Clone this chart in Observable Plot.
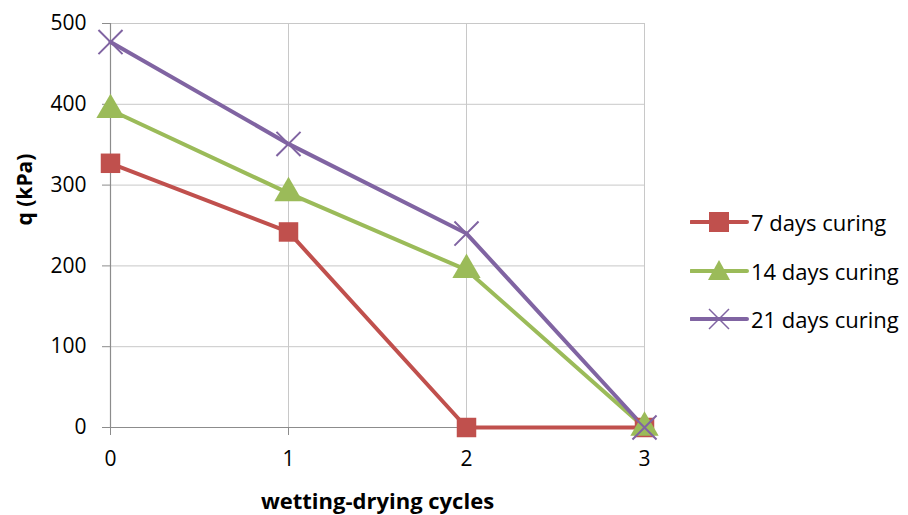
<!DOCTYPE html>
<html>
<head>
<meta charset="utf-8">
<script src="https://cdn.jsdelivr.net/npm/d3@7"></script>
<script src="https://cdn.jsdelivr.net/npm/@observablehq/plot@0.6"></script>
<style>
  html, body { margin: 0; padding: 0; background: #fff; }
  #wrap { position: relative; width: 908px; height: 515px; font-family: "Open Sans", sans-serif; }
  #legend { position: absolute; left: 690px; top: 198px; }
  .item { display: flex; align-items: center; height: 48.5px; font-size: 22px; color: #000; }
  .item svg { margin-right: 1px; }
</style>
</head>
<body>
<div id="wrap">
  <div id="chart"></div>
  <div id="legend"></div>
</div>
<script>
const cycles = [0, 1, 2, 3];
const seriesNames = ["7 days curing", "14 days curing", "21 days curing"];
const days7 = [327, 242, 0, 0];
const days14 = [393, 290, 195, 0];
const days21 = [477, 351, 240, 0];
const xTicks = [0, 1, 2, 3];
const yTicks = [0, 100, 200, 300, 400, 500];
const colors = ["#C0504D", "#9BBB59", "#8064A2"];
const symbols = ["square", "triangle", "times"];

const valuesBySeries = [days7, days14, days21];
const data = [];
seriesNames.forEach((s, i) => cycles.forEach((c, j) => data.push({series: s, x: c, y: valuesBySeries[i][j]})));

const marks = [
  Plot.gridX(xTicks, {stroke: "#c8c8c8", strokeOpacity: 1, strokeWidth: 1}),
  Plot.gridY(yTicks, {stroke: "#c8c8c8", strokeOpacity: 1, strokeWidth: 1}),
  Plot.ruleX([0], {stroke: "#8c8c8c", strokeWidth: 1.2}),
  Plot.ruleY([0], {stroke: "#8c8c8c", strokeWidth: 1.2}),
  Plot.axisY({ticks: yTicks, tickSize: 8, tickPadding: 16, tickFormat: "d", stroke: "#8c8c8c", fontSize: 21, label: null}),
  Plot.axisX({ticks: xTicks, tickSize: 8, tickPadding: 16, tickFormat: "d", stroke: "#8c8c8c", fontSize: 21, label: null}),
  Plot.text(["q (kPa)"], {frameAnchor: "left", dx: -85, rotate: -90, fontSize: 21, fontWeight: "bold", fill: "#000"}),
  Plot.text(["wetting-drying cycles"], {frameAnchor: "bottom", dy: 81, fontSize: 22, fontWeight: "bold", fill: "#000"})
];
seriesNames.forEach((s, i) => {
  const d = data.filter(r => r.series === s);
  marks.push(Plot.line(d, {x: "x", y: "y", stroke: colors[i], strokeWidth: 4}));
});
seriesNames.forEach((s, i) => {
  const d = data.filter(r => r.series === s);
  if (symbols[i] === "times") {
    marks.push(Plot.dot(d, {x: "x", y: "y", symbol: "times", r: 11, stroke: colors[i], strokeWidth: 2}));
  } else {
    marks.push(Plot.dot(d, {x: "x", y: "y", symbol: symbols[i], r: symbols[i] === "square" ? 11 : 10.5, fill: colors[i], stroke: "none"}));
  }
});

const chart = Plot.plot({
  width: 908,
  height: 515,
  marginLeft: 110,
  marginRight: 264,
  marginTop: 23,
  marginBottom: 88,
  x: {domain: [0, 3]},
  y: {domain: [0, 500]},
  style: {fontFamily: "'Open Sans', sans-serif", fontSize: "21px", color: "#000", background: "#fff"},
  marks
});
document.getElementById("chart").appendChild(chart);

const legend = document.getElementById("legend");
seriesNames.forEach((s, i) => {
  const item = document.createElement("div");
  item.className = "item";
  let sym = "";
  if (symbols[i] === "square") sym = `<rect x="19" y="-10" width="20" height="20" fill="${colors[i]}"/>`;
  else if (symbols[i] === "triangle") sym = `<path d="M29,-11 L40,9 L18,9 Z" fill="${colors[i]}"/>`;
  else sym = `<path d="M19,-10 L39,10 M19,10 L39,-10" stroke="${colors[i]}" stroke-width="1.5"/>`;
  item.innerHTML = `<svg width="60" height="26" viewBox="0 -13 60 26"><line x1="1" y1="0" x2="57" y2="0" stroke="${colors[i]}" stroke-width="4" stroke-linecap="round"/>${sym}</svg><span>${s}</span>`;
  legend.appendChild(item);
});
</script>
</body>
</html>
